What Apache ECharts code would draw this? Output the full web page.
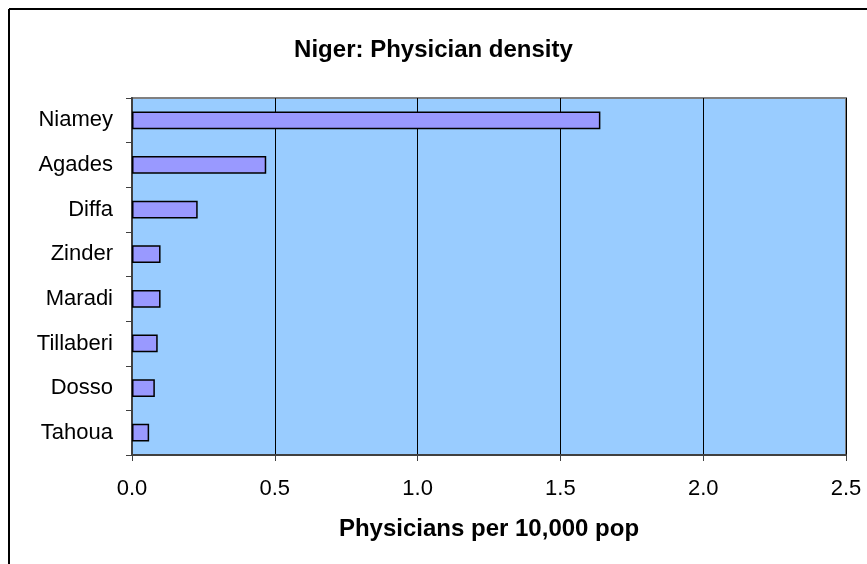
<!DOCTYPE html>
<html>
<head>
<meta charset="utf-8">
<script src="https://cdn.jsdelivr.net/npm/echarts@6/dist/echarts.min.js"></script>
<style>html,body{margin:0;padding:0;background:#fff;}#c{width:867px;height:564px;}</style>
</head>
<body>
<div id="c"></div>
<script>
var titleText = "Niger: Physician density";
var axisTitle = "Physicians per 10,000 pop";
var regions = ["Niamey", "Agades", "Diffa", "Zinder", "Maradi", "Tillaberi", "Dosso", "Tahoua"];
var density = [1.64, 0.47, 0.23, 0.10, 0.10, 0.09, 0.08, 0.06];
var xTicks = [0, 0.5, 1.0, 1.5, 2.0, 2.5];

var chart = echarts.init(document.getElementById('c'), null, {renderer: 'canvas'});
var FONT = '"Liberation Sans", Arial, sans-serif';
chart.setOption({
  animation: false,
  backgroundColor: '#ffffff',
  textStyle: {fontFamily: FONT},
  title: {
    text: titleText,
    left: 'center',
    top: 33,
    textStyle: {fontFamily: FONT, fontWeight: 'bold', fontSize: 24, color: '#000'}
  },
  graphic: [
    {type: 'line', shape: {x1: 9, y1: 9, x2: 867, y2: 9}, style: {stroke: '#000', lineWidth: 2}},
    {type: 'line', shape: {x1: 9, y1: 9, x2: 9, y2: 564}, style: {stroke: '#000', lineWidth: 2}}
  ],
  grid: {
    left: 132, right: 21, top: 98, bottom: 109,
    show: true, backgroundColor: '#99CCFF', borderColor: '#808080', borderWidth: 2
  },
  xAxis: {
    type: 'value',
    min: xTicks[0], max: xTicks[xTicks.length - 1], interval: 0.5,
    name: axisTitle,
    nameLocation: 'middle',
    nameGap: 62,
    nameTextStyle: {fontFamily: FONT, fontWeight: 'bold', fontSize: 24, color: '#000'},
    axisLine: {show: true, lineStyle: {color: '#404040', width: 2}},
    axisTick: {show: true, length: 6, lineStyle: {color: '#404040', width: 1}},
    axisLabel: {
      margin: 23, fontSize: 22, color: '#000', fontFamily: FONT,
      formatter: function (v) { return v.toFixed(1); }
    },
    splitLine: {show: true, lineStyle: {color: '#000', width: 1}}
  },
  yAxis: {
    type: 'category',
    inverse: true,
    data: regions,
    axisLine: {show: true, lineStyle: {color: '#404040', width: 2}},
    axisTick: {show: true, length: 6, inside: false, alignWithLabel: false, lineStyle: {color: '#404040', width: 1}},
    axisLabel: {margin: 19, fontSize: 22, color: '#000', fontFamily: FONT},
    splitLine: {show: false}
  },
  series: [{
    type: 'bar',
    data: density,
    barCategoryGap: '60%',
    itemStyle: {color: '#9999FF', borderColor: '#000', borderWidth: 1.5}
  }]
});
</script>
</body>
</html>
